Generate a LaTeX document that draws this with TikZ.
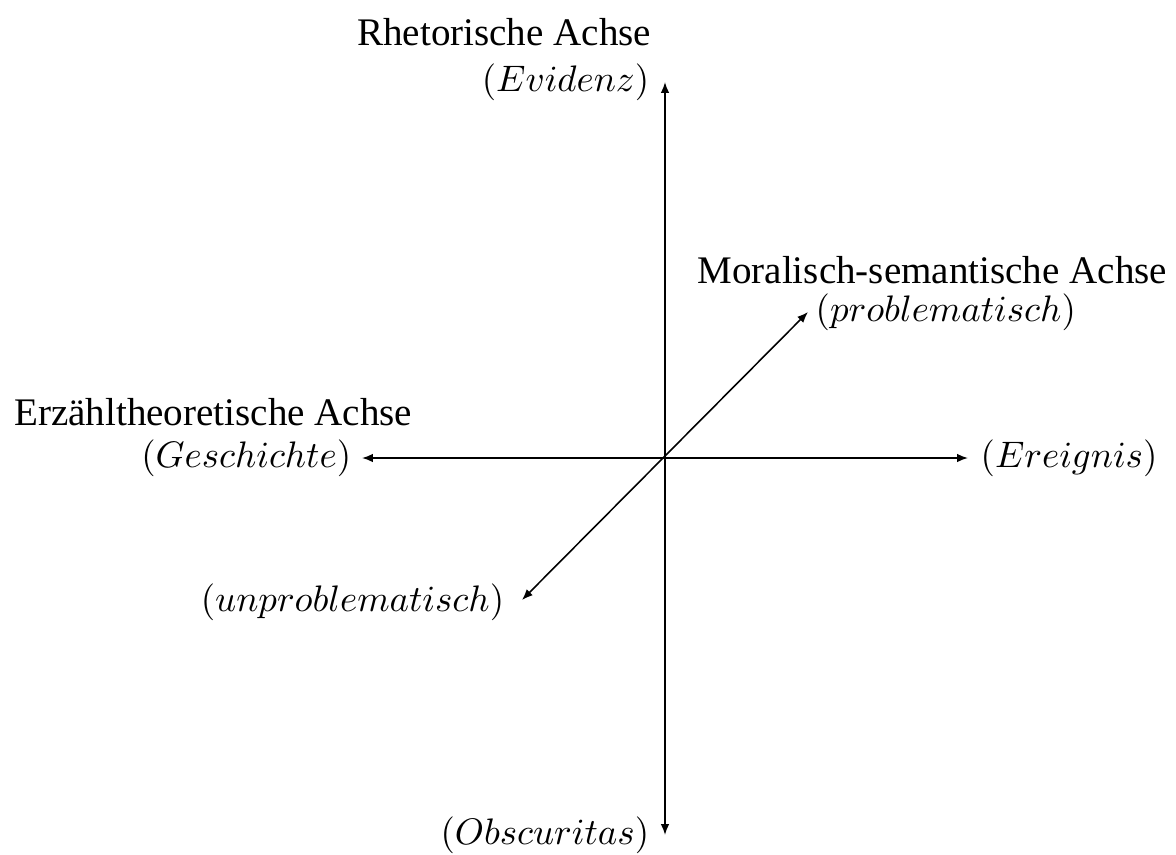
\documentclass[tikz,border=0pt]{standalone}
\usepackage{fontspec}
\setmainfont{Liberation Serif}
\usetikzlibrary{arrows.meta}
\begin{document}
\begin{tikzpicture}[x=0.256pt,y=-0.256pt,
  axis/.style={line width=0.4pt,{Latex[length=2.8pt,width=2.2pt]}-{Latex[length=2.8pt,width=2.2pt]}},
  lab/.style={inner sep=0pt,font=\fontsize{10}{12}\selectfont},
  mlab/.style={inner sep=0pt,scale=0.945,transform shape}]
\useasboundingbox (0,0) rectangle (1176,855);
% axis end points
\coordinate (c) at (665,458);
\coordinate (top) at (665,82);
\coordinate (bot) at (665,835);
\coordinate (lft) at (362,458);
\coordinate (rgt) at (968,458);
\coordinate (ur) at (808,312);
\coordinate (ll) at (522,600);
\draw[axis] (bot) -- (top);
\draw[axis] (lft) -- (rgt);
\draw[axis] (ll) -- (ur);
% labels
\node[lab,anchor=base east] (rh) at (652,45) {Rhetorische Achse};
\node[mlab,anchor=east] (ev) at (650,82) {$(Evidenz)$};
\node[mlab,anchor=east] (ob) at (650,835) {$(Obscuritas)$};
\node[lab,anchor=base east] (ms) at (1168,283) {Moralisch-semantische Achse};
\node[mlab,anchor=west] (pr) at (815,312) {$(problematisch)$};
\node[lab,anchor=base east] (er) at (413,425) {Erzähltheoretische Achse};
\node[mlab,anchor=east] (ge) at (352,458) {$(Geschichte)$};
\node[mlab,anchor=west] (ei) at (980,458) {$(Ereignis)$};
\node[mlab,anchor=east] (un) at (505,602) {$(unproblematisch)$};
\end{tikzpicture}
\end{document}
